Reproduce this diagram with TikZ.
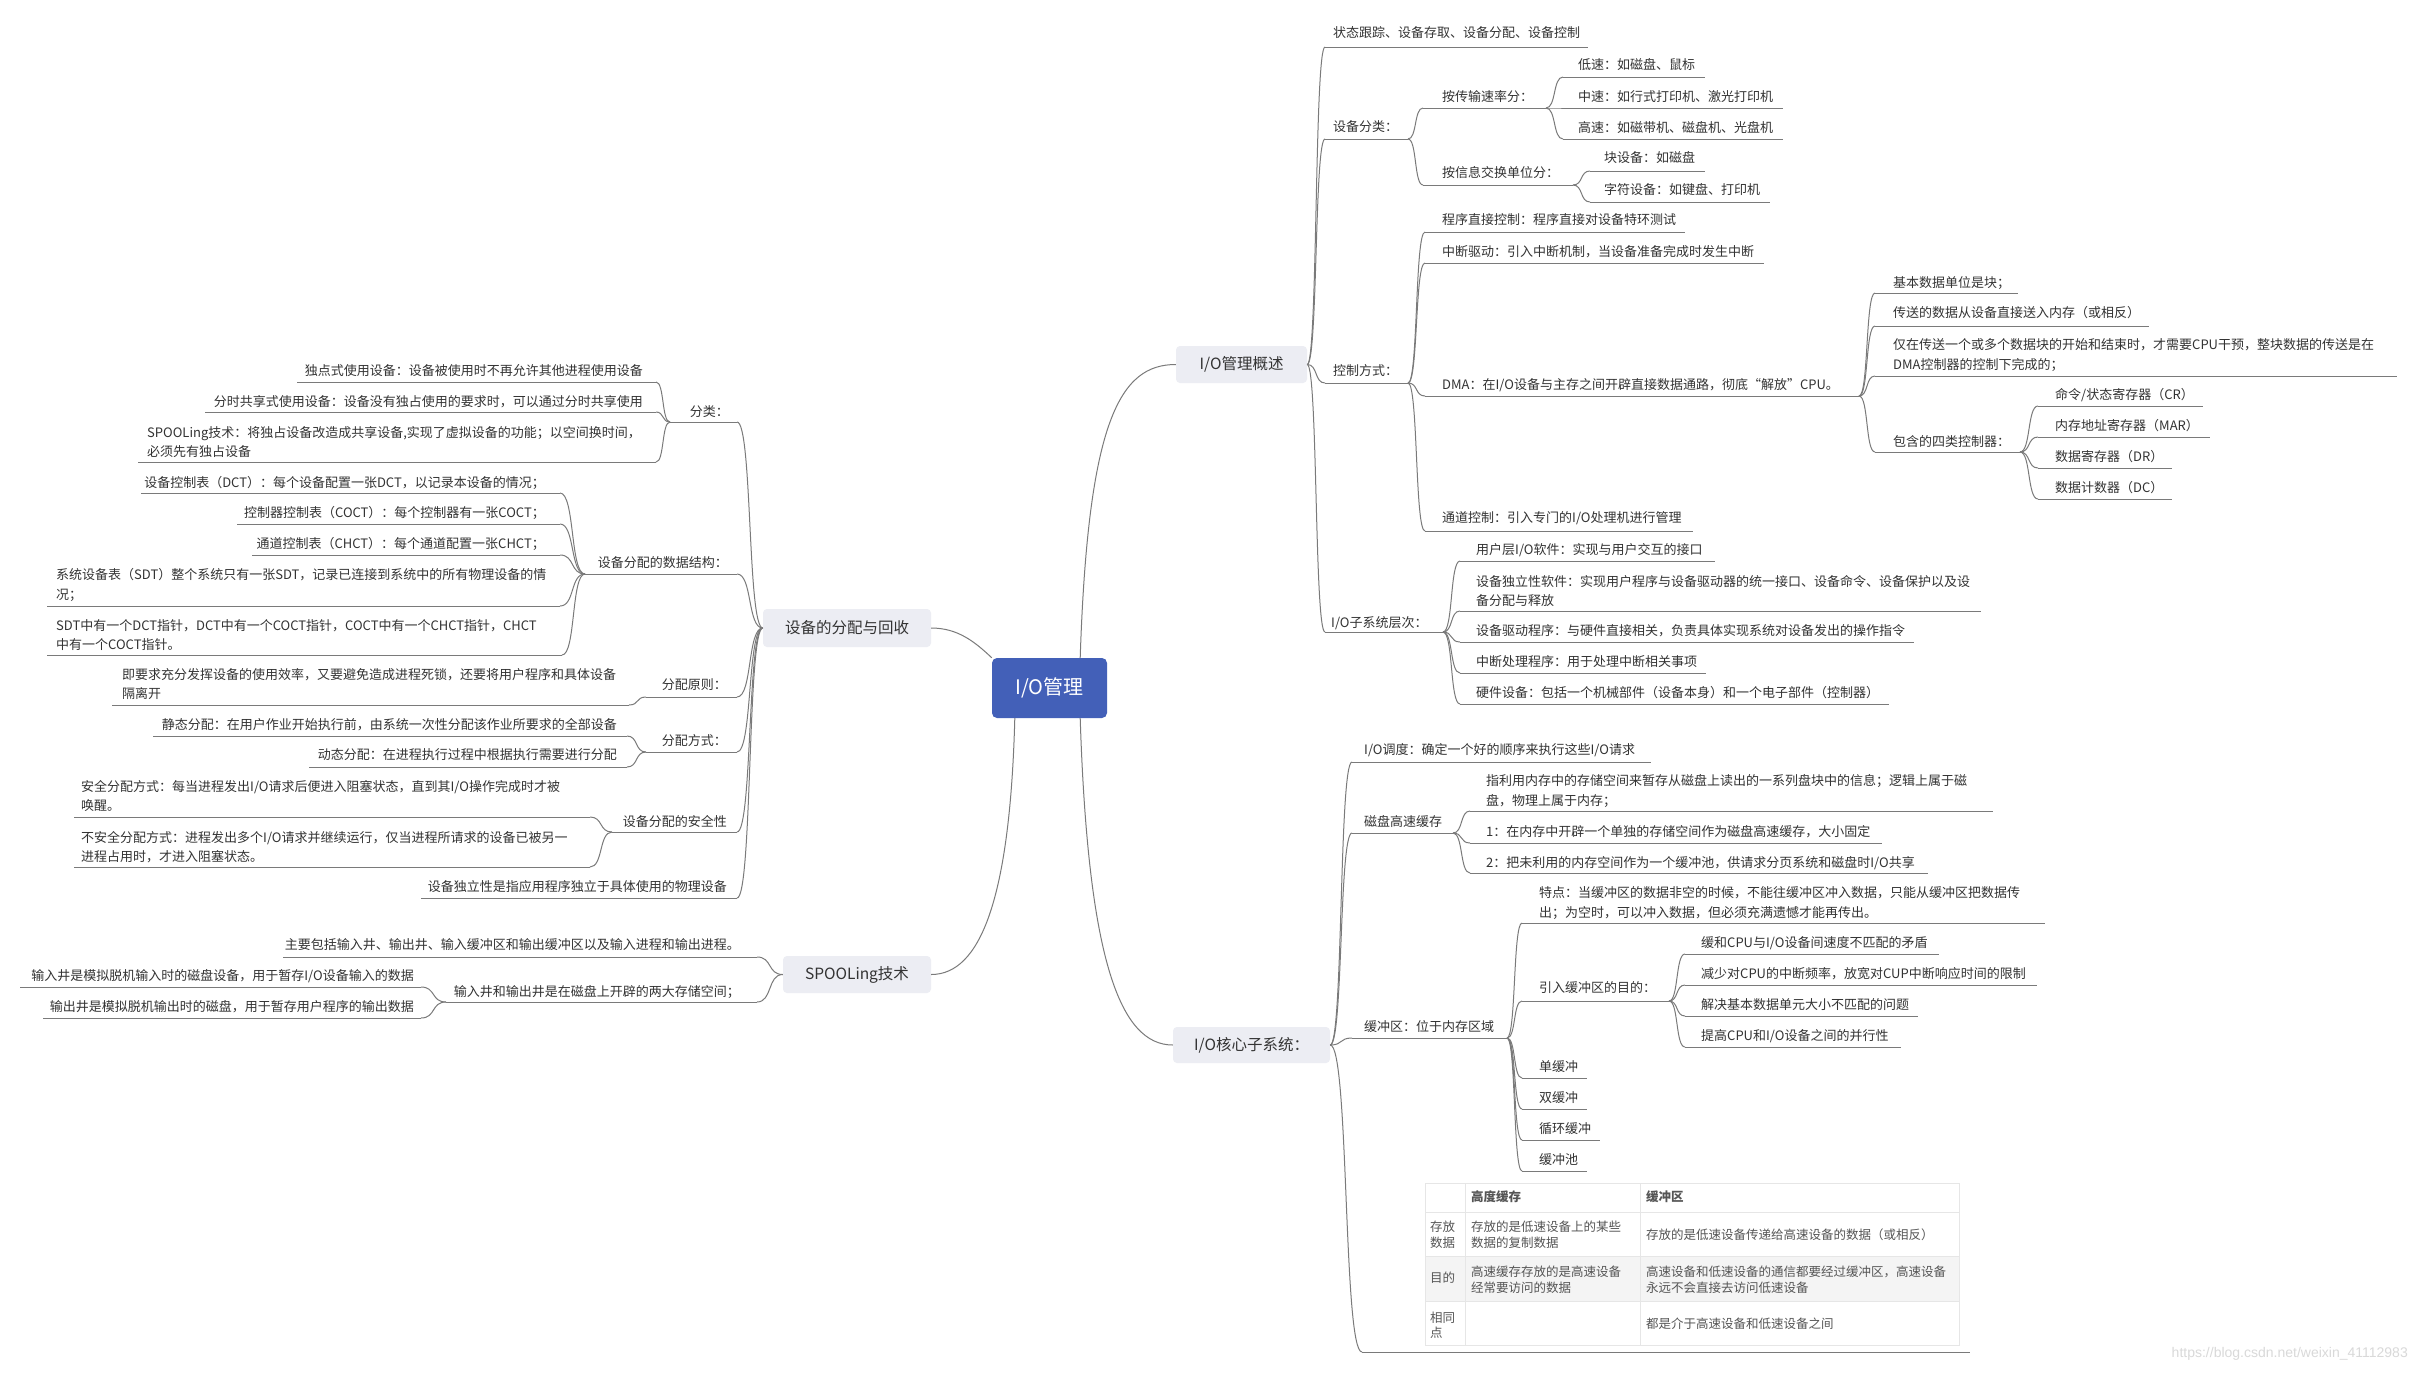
\documentclass[tikz,border=0pt]{standalone}
\usepackage{fontspec}
\setmainfont{Noto Sans CJK SC}
\newfontfamily\wmfont{Liberation Sans}
\usetikzlibrary{calc}
\definecolor{lnc}{HTML}{7A7A7A}
\definecolor{txc}{HTML}{333333}
\definecolor{boxc}{HTML}{ECEDF3}
\definecolor{rootc}{HTML}{4360B8}
\definecolor{tbl}{HTML}{E6E6E6}
\definecolor{tblfill}{HTML}{F4F4F4}
\definecolor{tbltx}{HTML}{555555}
\definecolor{wmc}{HTML}{D9D9D9}
\tikzset{
  ln/.style={draw=lnc, line width=1pt},
  tx/.style={inner sep=0pt, text=txc, font=\fontsize{13}{19.5}\selectfont, align=left},
  topbox/.style={fill=boxc, rounded corners=4pt, text=txc, font=\fontsize{15.5}{18}\selectfont, inner sep=0pt},
  rootbox/.style={fill=rootc, rounded corners=5pt, text=white, font=\fontsize{20}{24}\selectfont, inner sep=0pt, minimum width=115pt, minimum height=60pt},
  tbline/.style={draw=tbl, line width=1pt},
  ttx/.style={inner sep=0pt, text=tbltx, font=\fontsize{12.5}{15.5}\selectfont, align=left, anchor=west},
}
\newcommand\topic[8]{%
  \node[tx,anchor=#2] (#1) at (#3,#4) {#8};
  \coordinate (#1-a) at (#6,#5);
  \coordinate (#1-b) at (#7,#5);
  \draw[ln] (#1-a) -- (#1-b);
}
\newcommand\con[2]{\draw[ln] let \p1=(#1), \p2=(#2) in (\p1) .. controls ({\x1+0.6*(\x2-\x1)},\y1) and ({\x1+0.4*(\x2-\x1)},\y2) .. (\p2);}
\begin{document}
\begin{tikzpicture}[x=1pt,y=-1pt]
\useasboundingbox (0,0) rectangle (2418,1374);
\fill[white] (0,0) rectangle (2418,1374);

% main boxes
\node[rootbox] (root) at (1049.5,688) {I/O管理};
\node[topbox, minimum width=131pt, minimum height=37pt] (bA) at (1241.5,364.5) {I/O管理概述};
\node[topbox, minimum width=168pt, minimum height=38pt] (bB) at (847,628) {设备的分配与回收};
\node[topbox, minimum width=148pt, minimum height=37pt] (bC) at (857,974.5) {SPOOLing技术};
\node[topbox, minimum width=157pt, minimum height=36pt] (bD) at (1251.5,1045) {I/O核心子系统：};

\draw[ln] ([xshift=-27pt]root.north east) .. controls (1088,420) and (1120,364.5) .. (bA.west);
\draw[ln] (root.north west) .. controls (975,642) and (958,628) .. (bB.east);
\draw[ln] ([xshift=23pt]root.south west) .. controls (1010,900) and (980,974.5) .. (bC.east);
\draw[ln] ([xshift=-27pt]root.south east) .. controls (1088,960) and (1120,1045) .. (bD.west);

% ===== I/O管理概述 =====
\topic{s1}{west}{1333}{33}{47}{1325}{1588}{状态跟踪、设备存取、设备分配、设备控制}
\topic{s2}{west}{1333}{127}{139}{1325}{1408}{设备分类：}
\topic{s21}{west}{1442}{97}{108}{1423}{1546}{按传输速率分：}
\topic{s211}{west}{1578}{65}{77}{1563}{1705}{低速：如磁盘、鼠标}
\topic{s212}{west}{1578}{97}{108}{1563}{1783}{中速：如行式打印机、激光打印机}
\topic{s213}{west}{1578}{127}{139}{1563}{1783}{高速：如磁带机、磁盘机、光盘机}
\topic{s22}{west}{1442}{173}{185}{1423}{1573}{按信息交换单位分：}
\topic{s221}{west}{1604}{158}{171}{1590}{1705}{块设备：如磁盘}
\topic{s222}{west}{1604}{190}{202}{1590}{1770}{字符设备：如键盘、打印机}
\topic{s3}{west}{1333}{371}{383}{1325}{1408}{控制方式：}
\topic{s31}{west}{1442}{220}{232}{1425}{1685}{程序直接控制：程序直接对设备特环测试}
\topic{s32}{west}{1442}{252}{263}{1425}{1764}{中断驱动：引入中断机制，当设备准备完成时发生中断}
\topic{s33}{west}{1442}{385}{396}{1425}{1859}{DMA：在I/O设备与主存之间开辟直接数据通路，彻底“解放”CPU。}
\topic{s331}{west}{1893}{283}{293}{1875}{2018}{基本数据单位是块；}
\topic{s332}{west}{1893}{313}{326}{1875}{2149}{传送的数据从设备直接送入内存（或相反）}
\topic{s333}{west}{1893}{355}{376}{1875}{2397}{仅在传送一个或多个数据块的开始和结束时，才需要CPU干预，整块数据的传送是在\\DMA控制器的控制下完成的；}
\topic{s334}{west}{1893}{442}{452}{1875}{2020}{包含的四类控制器：}
\topic{s3341}{west}{2055}{395}{406}{2038}{2203}{命令/状态寄存器（CR）}
\topic{s3342}{west}{2055}{426}{437}{2038}{2210}{内存地址寄存器（MAR）}
\topic{s3343}{west}{2055}{457}{468}{2038}{2172}{数据寄存器（DR）}
\topic{s3344}{west}{2055}{488}{499}{2038}{2172}{数据计数器（DC）}
\topic{s34}{west}{1442}{518}{531}{1425}{1693}{通道控制：引入专门的I/O处理机进行管理}
\topic{s4}{west}{1331}{623}{632}{1325}{1443}{I/O子系统层次：}
\topic{s41}{west}{1476}{550}{561}{1460}{1715}{用户层I/O软件：实现与用户交互的接口}
\topic{s42}{west}{1476}{591}{611}{1460}{1981}{设备独立性软件：实现用户程序与设备驱动器的统一接口、设备命令、设备保护以及设\\备分配与释放}
\topic{s43}{west}{1476}{631}{642}{1460}{1914}{设备驱动程序：与硬件直接相关，负责具体实现系统对设备发出的操作指令}
\topic{s44}{west}{1476}{662}{673}{1460}{1706}{中断处理程序：用于处理中断相关事项}
\topic{s45}{west}{1476}{693}{704}{1460}{1889}{硬件设备：包括一个机械部件（设备本身）和一个电子部件（控制器）}

\con{bA.east}{s1-a}\con{bA.east}{s2-a}\con{bA.east}{s3-a}\con{bA.east}{s4-a}
\con{s2-b}{s21-a}\con{s2-b}{s22-a}
\con{s21-b}{s211-a}\con{s21-b}{s212-a}\con{s21-b}{s213-a}
\con{s22-b}{s221-a}\con{s22-b}{s222-a}
\con{s3-b}{s31-a}\con{s3-b}{s32-a}\con{s3-b}{s33-a}\con{s3-b}{s34-a}
\con{s33-b}{s331-a}\con{s33-b}{s332-a}\con{s33-b}{s333-a}\con{s33-b}{s334-a}
\con{s334-b}{s3341-a}\con{s334-b}{s3342-a}\con{s334-b}{s3343-a}\con{s334-b}{s3344-a}
\con{s4-b}{s41-a}\con{s4-b}{s42-a}\con{s4-b}{s43-a}\con{s4-b}{s44-a}\con{s4-b}{s45-a}

% ===== I/O核心子系统 =====
\topic{c1}{west}{1364}{750}{762}{1352}{1651}{I/O调度：确定一个好的顺序来执行这些I/O请求}
\topic{c2}{west}{1364}{822}{833}{1352}{1453}{磁盘高速缓存}
\topic{c21}{west}{1486}{791}{811}{1470}{1993}{指利用内存中的存储空间来暂存从磁盘上读出的一系列盘块中的信息；逻辑上属于磁\\盘，物理上属于内存；}
\topic{c22}{west}{1486}{832}{843}{1470}{1882}{1：在内存中开辟一个单独的存储空间作为磁盘高速缓存，大小固定}
\topic{c23}{west}{1486}{863}{873}{1470}{1928}{2：把未利用的内存空间作为一个缓冲池，供请求分页系统和磁盘时I/O共享}
\topic{c3}{west}{1364}{1027}{1038}{1352}{1507}{缓冲区：位于内存区域}
\topic{c31}{west}{1539}{903}{923}{1522}{2045}{特点：当缓冲区的数据非空的时候，不能往缓冲区冲入数据，只能从缓冲区把数据传\\出；为空时，可以冲入数据，但必须充满遗憾才能再传出。}
\topic{c32}{west}{1539}{988}{1001}{1522}{1669}{引入缓冲区的目的：}
\topic{c321}{west}{1701}{943}{954}{1685}{1939}{缓和CPU与I/O设备间速度不匹配的矛盾}
\topic{c322}{west}{1701}{974}{985}{1685}{2037}{减少对CPU的中断频率，放宽对CUP中断响应时间的限制}
\topic{c323}{west}{1701}{1005}{1016}{1685}{1918}{解决基本数据单元大小不匹配的问题}
\topic{c324}{west}{1701}{1036}{1047}{1685}{1901}{提高CPU和I/O设备之间的并行性}
\topic{c33}{west}{1539}{1067}{1078}{1522}{1587}{单缓冲}
\topic{c34}{west}{1539}{1098}{1109}{1522}{1587}{双缓冲}
\topic{c35}{west}{1539}{1129}{1140}{1522}{1600}{循环缓冲}
\topic{c36}{west}{1539}{1160}{1171}{1522}{1587}{缓冲池}

% table
\fill[tblfill] (1425,1256) rectangle (1959,1301);
\draw[tbline] (1425,1183) rectangle (1959,1345);
\draw[tbline] (1465,1183) -- (1465,1345);
\draw[tbline] (1640,1183) -- (1640,1345);
\draw[tbline] (1425,1212) -- (1959,1212);
\draw[tbline] (1425,1256) -- (1959,1256);
\draw[tbline] (1425,1301) -- (1959,1301);
\node[ttx,font=\fontsize{12.5}{15.5}\selectfont\bfseries] (th1) at (1471,1197) {高度缓存};
\node[ttx,font=\fontsize{12.5}{15.5}\selectfont\bfseries] (th2) at (1646,1197) {缓冲区};
\node[ttx] (t11) at (1430,1234.5) {存放\\数据};
\node[ttx] (t12) at (1471,1234.5) {存放的是低速设备上的某些\\数据的复制数据};
\node[ttx] (t13) at (1646,1235) {存放的是低速设备传递给高速设备的数据（或相反）};
\node[ttx] (t21) at (1430,1278) {目的};
\node[ttx] (t22) at (1471,1279.5) {高速缓存存放的是高速设备\\经常要访问的数据};
\node[ttx] (t23) at (1646,1279.5) {高速设备和低速设备的通信都要经过缓冲区，高速设备\\永远不会直接去访问低速设备};
\node[ttx] (t31) at (1430,1325) {相同\\点};
\node[ttx] (t33) at (1646,1324) {都是介于高速设备和低速设备之间};
\coordinate (tb-a) at (1362,1352);
\coordinate (tb-b) at (1970,1352);
\draw[ln] (tb-a) -- (tb-b);

\con{bD.east}{c1-a}\con{bD.east}{c2-a}\con{bD.east}{c3-a}\con{bD.east}{tb-a}
\con{c2-b}{c21-a}\con{c2-b}{c22-a}\con{c2-b}{c23-a}
\con{c3-b}{c31-a}\con{c3-b}{c32-a}\con{c3-b}{c33-a}\con{c3-b}{c34-a}\con{c3-b}{c35-a}\con{c3-b}{c36-a}
\con{c32-b}{c321-a}\con{c32-b}{c322-a}\con{c32-b}{c323-a}\con{c32-b}{c324-a}

% ===== 设备的分配与回收 =====
\topic{l1}{east}{729}{412}{422}{670}{737}{分类：}
\topic{l11}{east}{643}{371}{382}{297}{656}{独点式使用设备：设备被使用时不再允许其他进程使用设备}
\topic{l12}{east}{643}{402}{412}{205}{656}{分时共享式使用设备：设备没有独占使用的要求时，可以通过分时共享使用}
\topic{l13}{west}{147}{442}{462}{138}{656}{SPOOLing技术：将独占设备改造成共享设备,实现了虚拟设备的功能；以空间换时间，\\必须先有独占设备}
\topic{l2}{east}{728}{563}{574}{585}{737}{设备分配的数据结构：}
\topic{l21}{east}{545}{483}{493}{141}{560}{设备控制表（DCT）：每个设备配置一张DCT，以记录本设备的情况；}
\topic{l22}{east}{545}{513}{524}{237}{560}{控制器控制表（COCT）：每个控制器有一张COCT；}
\topic{l23}{east}{545}{544}{555}{252}{560}{通道控制表（CHCT）：每个通道配置一张CHCT；}
\topic{l24}{west}{56}{585}{606}{47}{560}{系统设备表（SDT）整个系统只有一张SDT，记录已连接到系统中的所有物理设备的情\\况；}
\topic{l25}{west}{56}{635}{655}{47}{562}{SDT中有一个DCT指针，DCT中有一个COCT指针，COCT中有一个CHCT指针，CHCT\\中有一个COCT指针。}
\topic{l3}{east}{727}{685}{697}{646}{737}{分配原则：}
\topic{l31}{west}{122}{684}{705}{112}{629}{即要求充分发挥设备的使用效率，又要避免造成进程死锁，还要将用户程序和具体设备\\隔离开}
\topic{l4}{east}{727}{741}{752}{646}{737}{分配方式：}
\topic{l41}{east}{617}{725}{736}{153}{627}{静态分配：在用户作业开始执行前，由系统一次性分配该作业所要求的全部设备}
\topic{l42}{east}{617}{755}{767}{309}{627}{动态分配：在进程执行过程中根据执行需要进行分配}
\topic{l5}{east}{727}{821}{832}{612}{737}{设备分配的安全性}
\topic{l51}{west}{81}{796}{817}{74}{590}{安全分配方式：每当进程发出I/O请求后便进入阻塞状态，直到其I/O操作完成时才被\\唤醒。}
\topic{l52}{west}{81}{847}{867}{74}{590}{不安全分配方式：进程发出多个I/O请求并继续运行，仅当进程所请求的设备已被另一\\进程占用时，才进入阻塞状态。}
\topic{l6}{east}{727}{887}{898}{421}{737}{设备独立性是指应用程序独立于具体使用的物理设备}

\con{bB.west}{l1-b}\con{bB.west}{l2-b}\con{bB.west}{l3-b}\con{bB.west}{l4-b}\con{bB.west}{l5-b}\con{bB.west}{l6-b}
\con{l1-a}{l11-b}\con{l1-a}{l12-b}\con{l1-a}{l13-b}
\con{l2-a}{l21-b}\con{l2-a}{l22-b}\con{l2-a}{l23-b}\con{l2-a}{l24-b}\con{l2-a}{l25-b}
\con{l3-a}{l31-b}
\con{l4-a}{l41-b}\con{l4-a}{l42-b}
\con{l5-a}{l51-b}\con{l5-a}{l52-b}

% ===== SPOOLing技术 =====
\topic{p1}{east}{740}{945}{957}{283}{757}{主要包括输入井、输出井、输入缓冲区和输出缓冲区以及输入进程和输出进程。}
\topic{p2}{east}{740}{992}{1002}{446}{757}{输入井和输出井是在磁盘上开辟的两大存储空间；}
\topic{p21}{east}{414}{976}{987}{20}{421}{输入井是模拟脱机输入时的磁盘设备，用于暂存I/O设备输入的数据}
\topic{p22}{east}{414}{1007}{1018}{43}{421}{输出井是模拟脱机输出时的磁盘，用于暂存用户程序的输出数据}
\con{bC.west}{p1-b}\con{bC.west}{p2-b}
\con{p2-a}{p21-b}\con{p2-a}{p22-b}

% watermark
\node[anchor=east, inner sep=0pt, text=wmc, font=\wmfont\fontsize{14}{16}\selectfont] (wm) at (2408,1354) {https://blog.csdn.net/weixin\_41112983};
\end{tikzpicture}
\end{document}
